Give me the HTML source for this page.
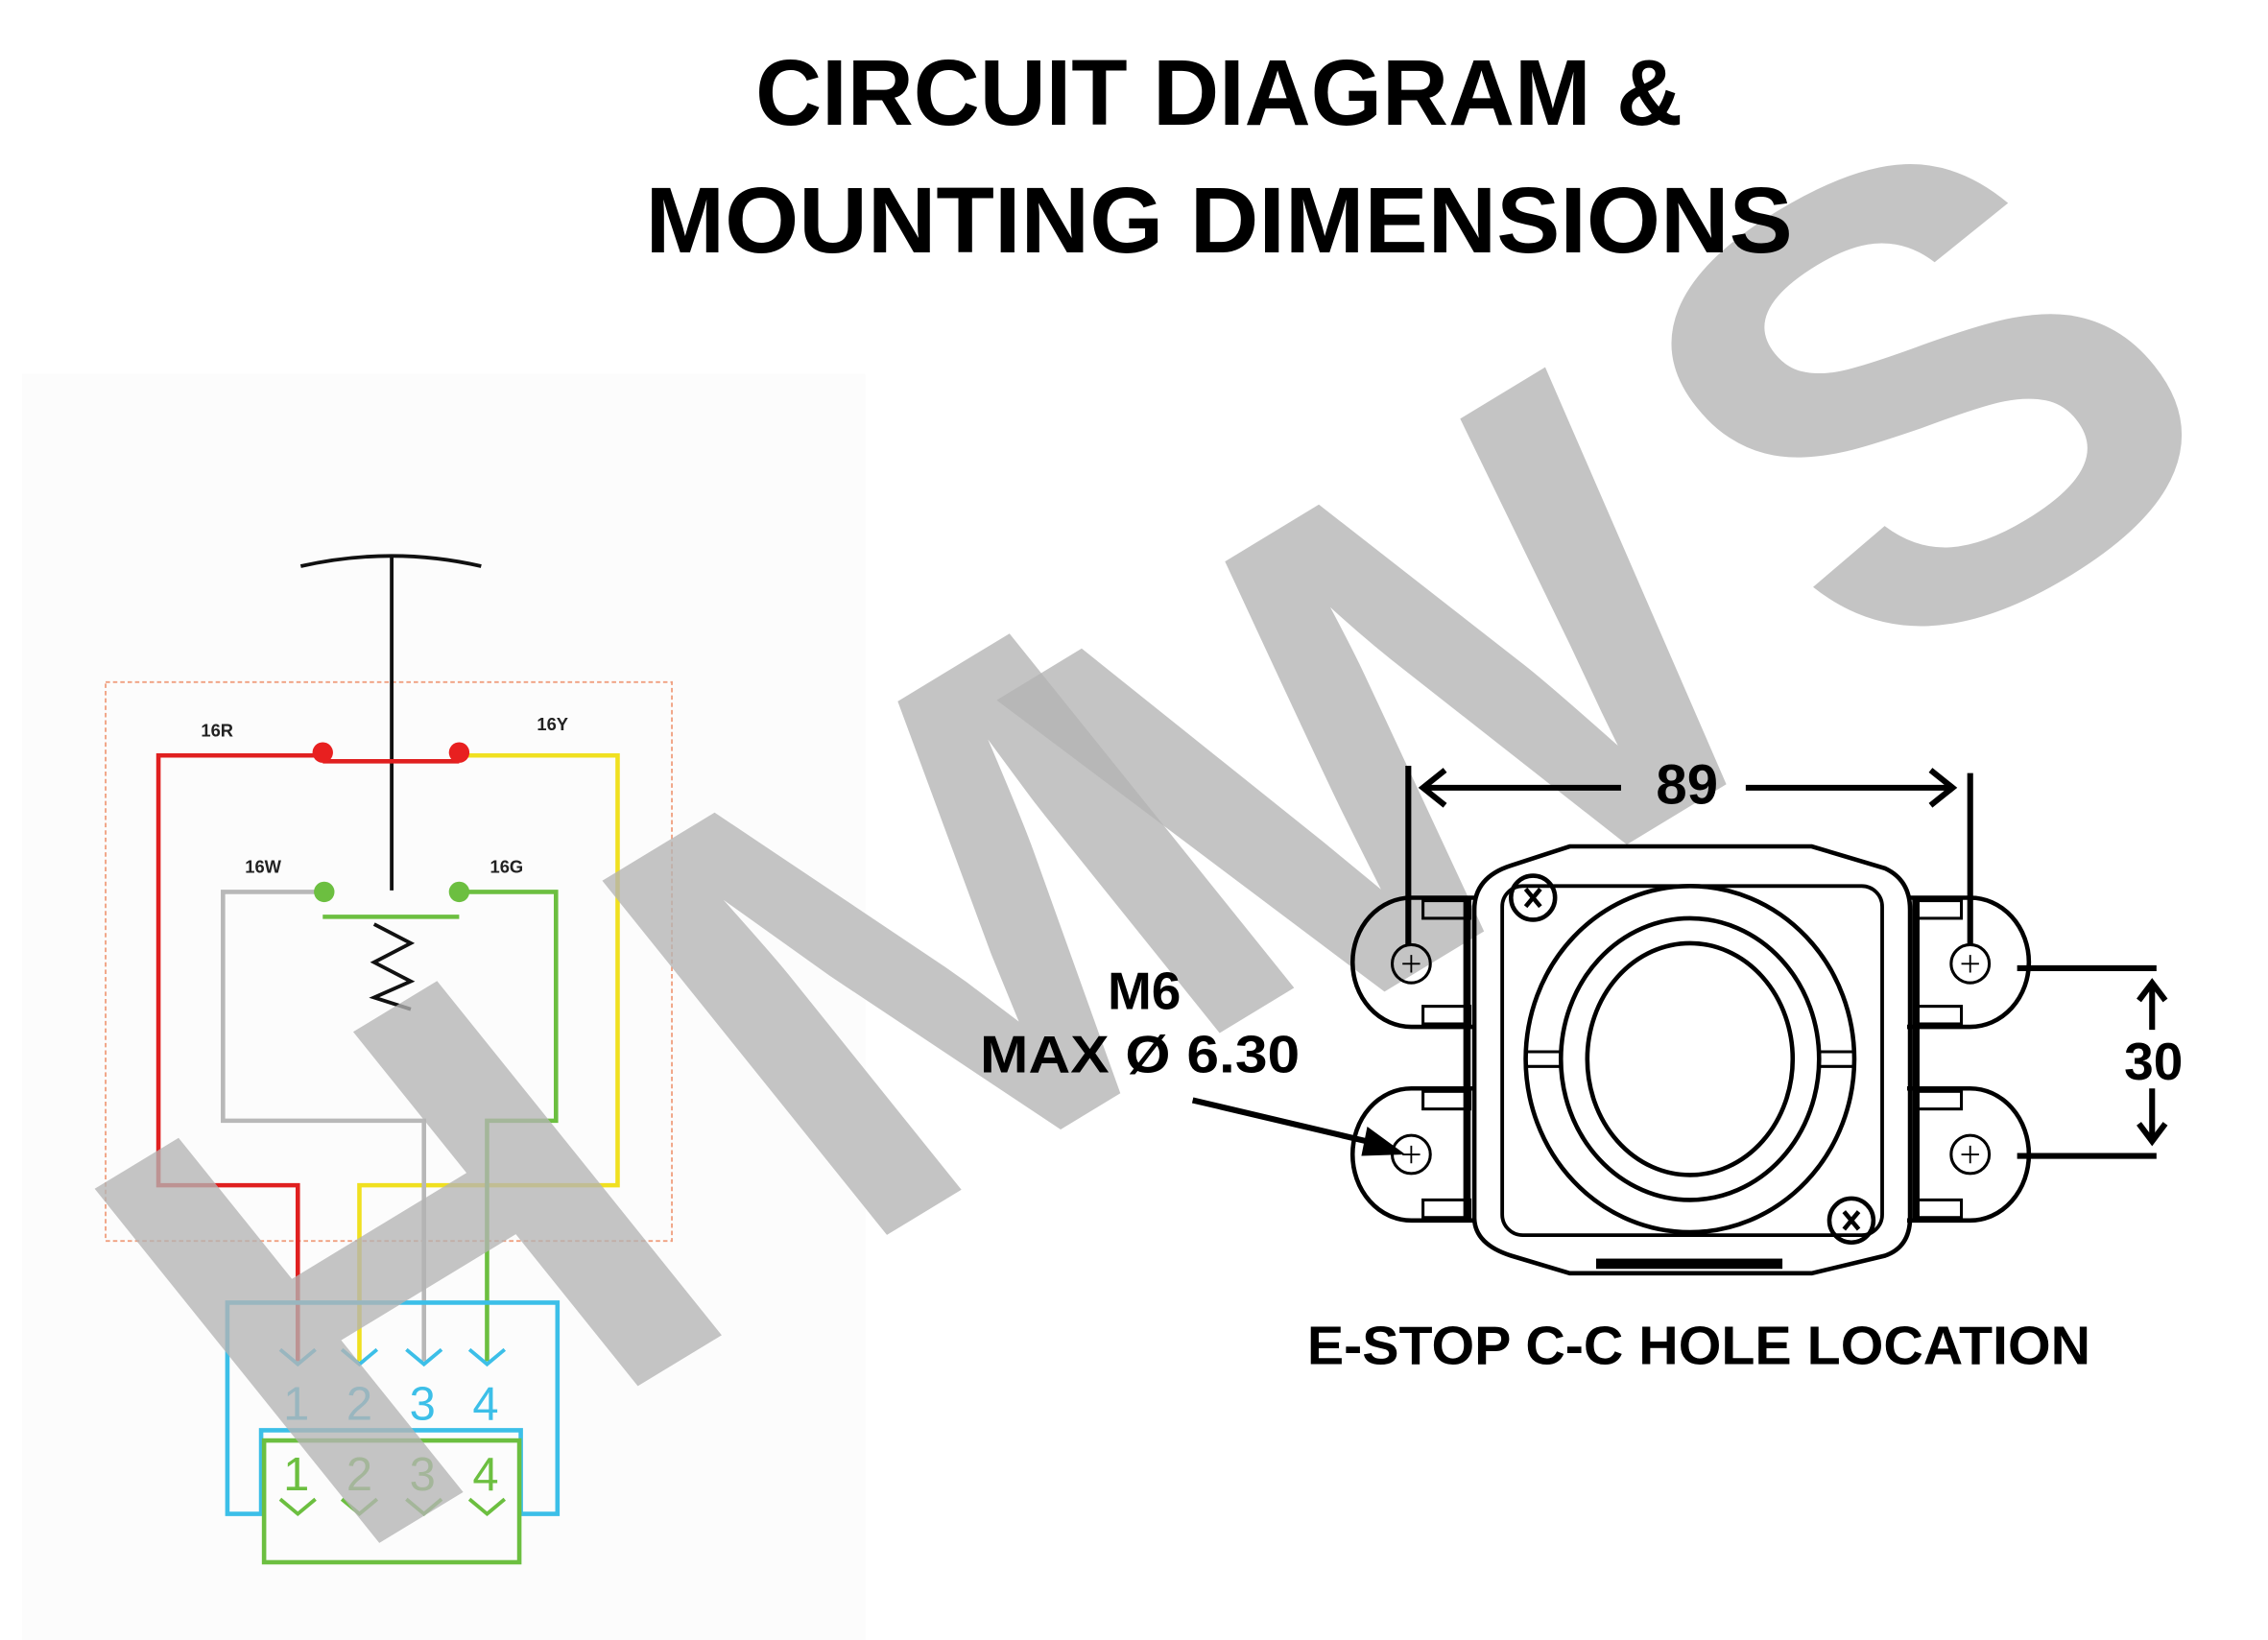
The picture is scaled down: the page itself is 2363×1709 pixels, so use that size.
<!DOCTYPE html>
<html><head><meta charset="utf-8"><style>
html,body{margin:0;padding:0;background:#fff;}
svg{display:block;}
text{font-family:"Liberation Sans",sans-serif;}
</style></head><body>
<svg width="2363" height="1709" viewBox="0 0 1546 1118" preserveAspectRatio="none" xmlns="http://www.w3.org/2000/svg">
<rect width="1546" height="1118" fill="#fff"/>
<rect x="15" y="255" width="575" height="863" fill="#fcfcfc"/>

<!-- LEFT CIRCUIT -->
<rect x="72" y="465" width="386" height="381" fill="none" stroke="#f0a080" stroke-width="1.2" stroke-dasharray="3,2"/>
<path d="M205,386 Q267,372 328,386" fill="none" stroke="#111" stroke-width="2.5"/>
<line x1="267" y1="379" x2="267" y2="607" stroke="#111" stroke-width="2.5"/>
<g fill="none" stroke-width="3">
<path d="M220,515 H108 V808 H203 V928" stroke="#e02020"/>
<line x1="220" y1="519" x2="313" y2="519" stroke="#e02020"/>
<path d="M313,515 H421 V808 H245 V928" stroke="#f0e020"/>
<path d="M220,608 H152 V764 H289 V928" stroke="#b8b8b8"/>
<path d="M313,608 H379 V764 H332 V928" stroke="#6cbf40"/>
<line x1="220" y1="625" x2="313" y2="625" stroke="#6cbf40"/>
<path d="M255,630 L280,643 L255,656 L280,669 L255,680 L280,688" stroke="#111" stroke-width="2.5"/>
</g>
<circle cx="220" cy="513" r="7" fill="#e82020"/>
<circle cx="313" cy="513" r="7" fill="#e82020"/>
<circle cx="221" cy="608" r="7" fill="#6cbf40"/>
<circle cx="313" cy="608" r="7" fill="#6cbf40"/>
<g font-size="12" font-weight="bold" fill="#222">
<text x="137" y="502">16R</text><text x="366" y="498">16Y</text>
<text x="167" y="595">16W</text><text x="334" y="595">16G</text>
</g>
<path d="M155,1032 V888 H380 V1032 H355 V975 H178 V1032 Z" fill="none" stroke="#3cbfe8" stroke-width="3"/>
<rect x="180" y="982" width="174" height="83" fill="none" stroke="#6cbf40" stroke-width="3"/>
<g fill="none" stroke="#3cbfe8" stroke-width="2.5">
<path d="M191,920 L203,930 L215,920"/><path d="M233,920 L245,930 L257,920"/>
<path d="M277,920 L289,930 L301,920"/><path d="M320,920 L332,930 L344,920"/>
</g>
<g fill="none" stroke="#6cbf40" stroke-width="2.5">
<path d="M191,1022 L203,1032 L215,1022"/><path d="M233,1022 L245,1032 L257,1022"/>
<path d="M277,1022 L289,1032 L301,1022"/><path d="M320,1022 L332,1032 L344,1022"/>
</g>
<g font-size="32" fill="#3cbfe8" text-anchor="middle">
<text x="202" y="968">1</text><text x="245" y="968">2</text><text x="288" y="968">3</text><text x="331" y="968">4</text>
</g>
<g font-size="32" fill="#6cbf40" text-anchor="middle">
<text x="202" y="1016">1</text><text x="245" y="1016">2</text><text x="288" y="1016">3</text><text x="331" y="1016">4</text>
</g>

<!-- WATERMARK -->
<g font-size="100" font-weight="bold" fill="#b4b4b4" fill-opacity="0.78">
<text transform="matrix(3.97,-2.41,2.82,3.51,232,1068)">H</text>
<text transform="matrix(3.97,-2.41,2.82,3.51,578,858)">M</text>
<text transform="matrix(3.97,-2.41,2.82,3.51,873,719)">W</text>
<text transform="matrix(3.97,-2.41,2.82,3.51,1275,470)">S</text>
</g>

<!-- TITLE -->
<g font-weight="bold" fill="#000" font-size="64">
<text x="515" y="85" textLength="632" lengthAdjust="spacingAndGlyphs">CIRCUIT DIAGRAM &amp;</text>
<text x="440" y="172" textLength="782" lengthAdjust="spacingAndGlyphs">MOUNTING DIMENSIONS</text>
</g>

<!-- RIGHT DRAWING -->
<g fill="none" stroke="#000" stroke-width="4">
<line x1="960" y1="522" x2="960" y2="645"/>
<line x1="1343" y1="527" x2="1343" y2="645"/>
<line x1="970" y1="537" x2="1105" y2="537"/>
<line x1="1190" y1="537" x2="1330" y2="537"/>
<path d="M985,525 L970,537 L985,549"/>
<path d="M1316,525 L1331,537 L1316,549"/>
<line x1="1375" y1="660" x2="1470" y2="660"/>
<line x1="1375" y1="788" x2="1470" y2="788"/>
<line x1="1467" y1="672" x2="1467" y2="702"/>
<line x1="1467" y1="742" x2="1467" y2="776"/>
<path d="M1458,682 L1467,670 L1476,682"/>
<path d="M1458,766 L1467,778 L1476,766"/>
<line x1="813" y1="750" x2="940" y2="780"/>
</g>
<path d="M958,787 L932,768 L928,788 Z" fill="#000"/>
<g fill="none" stroke="#000" stroke-width="3">
<path d="M1005,612 H962 A40,44 0 0 0 962,700 H1005"/>
<path d="M1005,742 H962 A40,45 0 0 0 962,832 H1005"/>
<path d="M1300,612 H1343 A40,44 0 0 1 1343,700 H1300"/>
<path d="M1300,742 H1343 A40,45 0 0 1 1343,832 H1300"/>
<rect x="970" y="614" width="32" height="12" stroke-width="2"/>
<rect x="970" y="686" width="32" height="12" stroke-width="2"/>
<rect x="970" y="744" width="32" height="12" stroke-width="2"/>
<rect x="970" y="818" width="32" height="12" stroke-width="2"/>
<rect x="1305" y="614" width="32" height="12" stroke-width="2"/>
<rect x="1305" y="686" width="32" height="12" stroke-width="2"/>
<rect x="1305" y="744" width="32" height="12" stroke-width="2"/>
<rect x="1305" y="818" width="32" height="12" stroke-width="2"/>
<line x1="1000" y1="612" x2="1000" y2="832" stroke-width="5"/>
<line x1="1306" y1="612" x2="1306" y2="832" stroke-width="5"/>
<path d="M1030,590 L1070,577 H1235 L1285,592 Q1302,600 1302,620 V830 Q1302,850 1285,856 L1235,868 H1070 L1030,856 Q1005,848 1005,830 V620 Q1005,598 1030,590 Z"/>
<rect x="1024" y="604" width="259" height="238" rx="14" stroke-width="2.5"/>
<ellipse cx="1152" cy="722" rx="112" ry="118" stroke-width="3"/>
<ellipse cx="1152" cy="722" rx="88" ry="96"/>
<ellipse cx="1152" cy="722" rx="70" ry="79"/>
<line x1="1040" y1="717" x2="1064" y2="717" stroke-width="2"/><line x1="1040" y1="727" x2="1064" y2="727" stroke-width="2"/>
<line x1="1240" y1="717" x2="1264" y2="717" stroke-width="2"/><line x1="1240" y1="727" x2="1264" y2="727" stroke-width="2"/>
<circle cx="1045" cy="612" r="15"/>
<circle cx="1262" cy="832" r="15"/>
<g stroke-width="2">
<circle cx="962" cy="657" r="13"/><circle cx="962" cy="787" r="13"/>
<circle cx="1343" cy="657" r="13"/><circle cx="1343" cy="787" r="13"/>
<path d="M956,657 H968 M962,651 V663 M956,787 H968 M962,781 V793 M1337,657 H1349 M1343,651 V663 M1337,787 H1349 M1343,781 V793" stroke-width="1.2"/>
</g>
</g>
<path d="M1040,606 L1050,618 M1050,606 L1040,618 M1257,826 L1267,838 M1267,826 L1257,838" stroke="#000" stroke-width="3"/>
<rect x="1088" y="858" width="127" height="7" fill="#000"/>
<g font-weight="bold" fill="#000" text-anchor="middle">
<text x="1150" y="548" font-size="38">89</text>
<text x="1468" y="736" font-size="36">30</text>
<text x="780" y="688" font-size="36">M6</text>
<text x="777" y="731" font-size="36" textLength="218" lengthAdjust="spacingAndGlyphs">MAX Ø 6.30</text>
<text x="1158" y="930" font-size="37" textLength="534" lengthAdjust="spacingAndGlyphs">E-STOP C-C HOLE LOCATION</text>
</g>
</svg>
</body></html>
